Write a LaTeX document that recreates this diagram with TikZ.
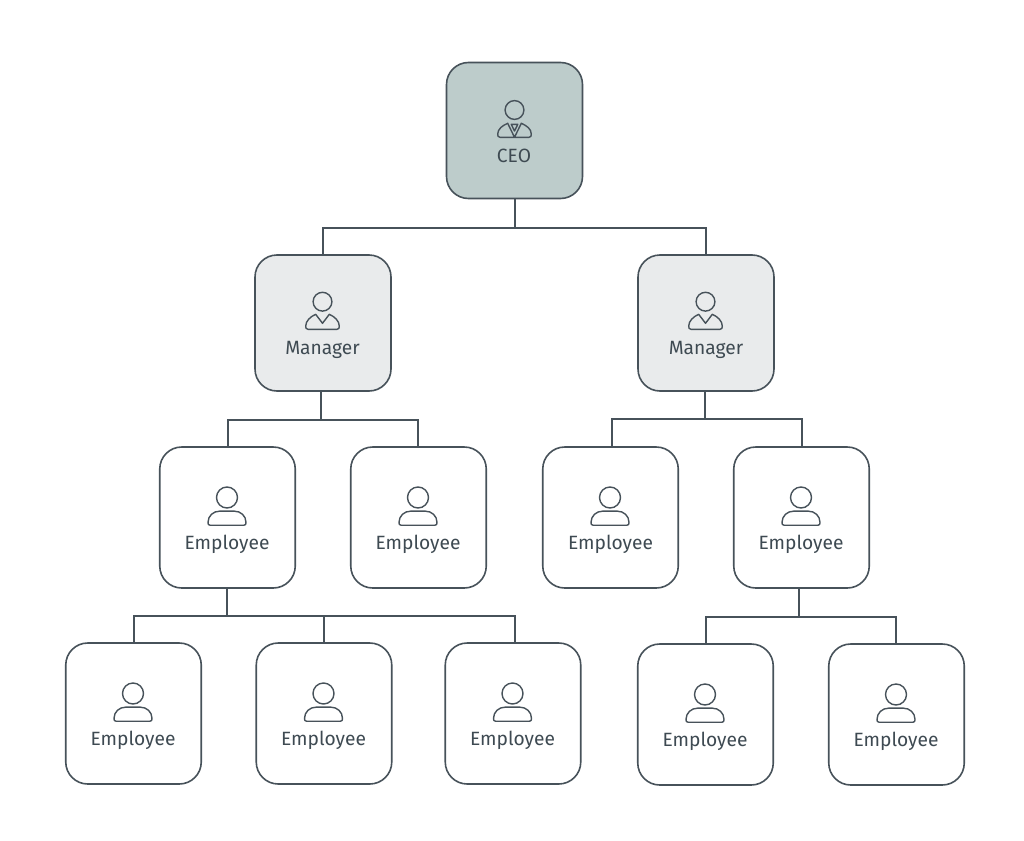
\documentclass[tikz,border=0pt]{standalone}
\usepackage{fontspec}
\setmainfont{Fira Sans}
\definecolor{ink}{HTML}{47525A}
\definecolor{txt}{HTML}{3E4A52}
\definecolor{ceofill}{HTML}{BDCCCB}
\definecolor{mgrfill}{HTML}{E9EBEC}
\tikzset{
  orgbox/.style={draw=ink,line width=1.6pt,rounded corners=22pt,inner sep=0pt},
  tallbox/.style={orgbox,minimum width=135.5pt,minimum height=141pt,fill=white},
  squarebox/.style={orgbox,minimum width=136pt,minimum height=136pt},
  lbl/.style={text=txt,font=\fontsize{19.2}{21}\selectfont,inner sep=0pt,anchor=base},
  link/.style={draw=ink,line width=2pt},
  stroke/.style={draw=ink,line width=1.4pt,line join=round,line cap=round,fill=none},
  empicon/.pic={
    \draw[stroke] (0,-46) circle[radius=10.5];
    \draw[stroke] (-17,-18.3) .. controls (-18.7,-18.3) and (-19,-19.5) .. (-19,-21)
      .. controls (-19,-27.5) and (-14,-32.4) .. (-7,-32.4)
      -- (7,-32.4) .. controls (14,-32.4) and (19,-27.5) .. (19,-21)
      .. controls (19,-19.5) and (18.7,-18.3) .. (17,-18.3) -- cycle;
  },
  mgricon/.pic={
    \draw[stroke] (0,-46.3) circle[radius=9.4];
    \draw[stroke] (-14.5,-18.7) .. controls (-16.5,-18.7) and (-16.8,-20) .. (-16.8,-22)
      .. controls (-16.8,-27) and (-12,-31.5) .. (-6.8,-33.7) -- (0,-24.7) -- (6.8,-33.7)
      .. controls (12,-31.5) and (16.8,-27) .. (16.8,-22)
      .. controls (16.8,-20) and (16.5,-18.7) .. (14.5,-18.7) -- cycle;
  },
  ceoicon/.pic={
    \draw[stroke] (0,-46) circle[radius=9.4];
    \draw[stroke] (-14.5,-18.7) .. controls (-16.5,-18.7) and (-16.8,-20) .. (-16.8,-22)
      .. controls (-16.8,-27) and (-12,-30.5) .. (-6.8,-32.7) -- (0,-18.7) -- (6.8,-32.7)
      .. controls (12,-30.5) and (16.8,-27) .. (16.8,-22)
      .. controls (16.8,-20) and (16.5,-18.7) .. (14.5,-18.7) -- cycle;
    \draw[stroke] (-3.3,-31.7) -- (3.3,-31.7) -- (0,-25) -- cycle;
  }
}
\begin{document}
\begin{tikzpicture}[x=1pt,y=-1pt]
\useasboundingbox[fill=white,draw=none] (0,0) rectangle (1024,840);
% connectors sit under the boxes
\node[squarebox,fill=ceofill] (ceo) at (514.5,130.5) {};
\node[squarebox,fill=mgrfill] (ml) at (323,323) {};
\node[squarebox,fill=mgrfill] (mr) at (706,323) {};
\node[tallbox] (e1) at (227.5,517.5) {};
\node[tallbox] (e2) at (418.5,517.5) {};
\node[tallbox] (e3) at (610.5,517.5) {};
\node[tallbox] (e4) at (801.5,517.5) {};
\node[tallbox] (f1) at (133.5,713.5) {};
\node[tallbox] (f2) at (324,713.5) {};
\node[tallbox] (f3) at (513,713.5) {};
\node[tallbox] (f4) at (705.5,714.5) {};
\node[tallbox] (f5) at (896.5,714.5) {};
% junctions
\coordinate (jc) at (514.5,227.5);
\coordinate (jl) at (320.5,419.5);
\coordinate (jr) at (704.5,418.5);
\coordinate (je) at (226.5,615.5);
\coordinate (jf) at (798.5,616.5);
% drop points where a line meets a box away from its centre
\coordinate (dml) at (322.5,255);
\coordinate (dmr) at (705.5,255);
\coordinate (de2) at (417.5,447);
\coordinate (de3) at (611.5,447);
\coordinate (df2) at (323.5,643);
\coordinate (df3) at (514.5,643);
\coordinate (df5) at (895.5,644);
% connectors
\draw[link] (ceo.south) -- (jc);
\draw[link] (dml) |- (jc);
\draw[link] (dmr) |- (jc);
\draw[link] (jl |- ml.south) -- (jl);
\draw[link] (e1.north) |- (jl);
\draw[link] (de2) |- (jl);
\draw[link] (jr |- mr.south) -- (jr);
\draw[link] (de3) |- (jr);
\draw[link] (e4.north) |- (jr);
\draw[link] (je |- e1.south) -- (je);
\draw[link] (f1.north) |- (je);
\draw[link] (df2) -- (df2 |- je);
\draw[link] (df3) |- (je);
\draw[link] (jf |- e4.south) -- (jf);
\draw[link] (f4.north) |- (jf);
\draw[link] (df5) |- (jf);
% icons
\pic at (514.5,156) {ceoicon};
\pic at (322.5,348) {mgricon};
\pic at (705.5,348) {mgricon};
\pic at (227,543.5) {empicon};
\pic at (418,543.5) {empicon};
\pic at (610,543.5) {empicon};
\pic at (801,543.5) {empicon};
\pic at (133,739.5) {empicon};
\pic at (323.5,739.5) {empicon};
\pic at (512.5,739.5) {empicon};
\pic at (705,740.5) {empicon};
\pic at (896,740.5) {empicon};
% labels
\node[lbl] (tc) at (514,162) {CEO};
\node[lbl] (tl) at (322.5,354.5) {Manager};
\node[lbl] (tr) at (706,354.5) {Manager};
\foreach \n/\x/\y in {a/227/549.5,b/418/549.5,c/610.5/549.5,d/801/549.5,g/133/745.5,h/323.5/745.5,i/512.5/745.5,j/705/746.5,k/896/746.5}
  \node[lbl] (t\n) at (\x,\y) {Employee};
\end{tikzpicture}
\end{document}
